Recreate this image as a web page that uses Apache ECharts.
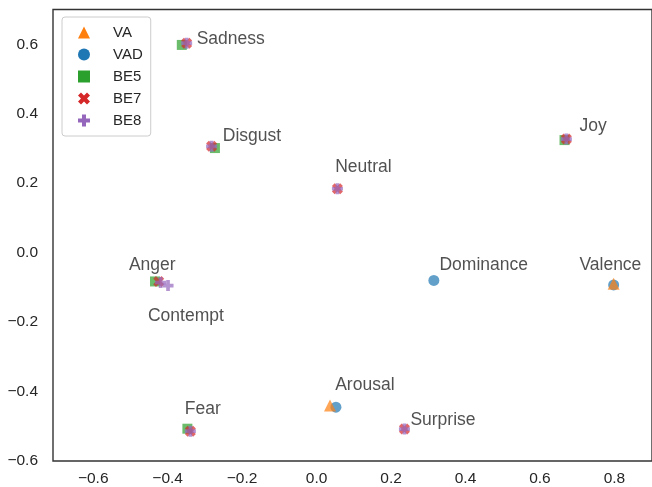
<!DOCTYPE html>
<html>
<head>
<meta charset="utf-8">
<script src="https://cdn.jsdelivr.net/npm/echarts@6/dist/echarts.min.js"></script>
<style>
  html, body { margin: 0; padding: 0; background: #fff; }
  #chart { width: 652px; height: 487px; }
</style>
</head>
<body>
<div id="chart"></div>
<script>
// points per embedding set, [x, y, name]
const vaPoints = [
  [0.798, -0.090, "Valence"],
  [0.036, -0.440, "Arousal"]
];
const vadPoints = [
  [0.798, -0.093, "Valence"],
  [0.052, -0.445, "Arousal"],
  [0.315, -0.080, "Dominance"]
];
const be5Points = [
  [-0.434, -0.083, "Anger"],
  [-0.273, 0.301, "Disgust"],
  [-0.347, -0.507, "Fear"],
  [0.666, 0.324, "Joy"],
  [-0.362, 0.598, "Sadness"]
];
const be7Points = [
  [-0.424, -0.083, "Anger"],
  [-0.282, 0.306, "Disgust"],
  [-0.339, -0.514, "Fear"],
  [0.671, 0.327, "Joy"],
  [-0.349, 0.603, "Sadness"],
  [0.236, -0.508, "Surprise"],
  [0.056, 0.184, "Neutral"]
];
const be8Points = [
  [-0.419, -0.086, "Anger"],
  [-0.282, 0.306, "Disgust"],
  [-0.339, -0.514, "Fear"],
  [0.671, 0.327, "Joy"],
  [-0.349, 0.603, "Sadness"],
  [0.236, -0.508, "Surprise"],
  [0.056, 0.184, "Neutral"],
  [-0.399, -0.095, "Contempt"]
];
// text annotations (left edge, middle) in data units
const labelNames = ["Sadness", "Disgust", "Neutral", "Joy", "Valence", "Dominance",
  "Anger", "Contempt", "Arousal", "Surprise", "Fear"];
const labelX = [-0.322, -0.252, 0.050, 0.706, 0.706, 0.330, -0.504, -0.453, 0.050, 0.252, -0.354];
const labelY = [0.616, 0.336, 0.247, 0.365, -0.035, -0.035, -0.035, -0.184, -0.383, -0.483, -0.452];

const xTicks = [-0.6, -0.4, -0.2, 0.0, 0.2, 0.4, 0.6, 0.8];
const yTicks = [-0.6, -0.4, -0.2, 0.0, 0.2, 0.4, 0.6];

const TXT = "#262626";
const FONT = "Liberation Sans";
const plusPath = "path://M-1,-3L1,-3L1,-1L3,-1L3,1L1,1L1,3L-1,3L-1,1L-3,1L-3,-1L-1,-1Z";
const xPath = "path://M2,-4L4,-2L2,0L4,2L2,4L0,2L-2,4L-4,2L-2,0L-4,-2L-2,-4L0,-2Z";

const fmt = v => (Math.round(v * 10) / 10).toFixed(1).replace("-", "\u2212");

function sc(name, data, symbol, size, color, z) {
  return {
    name: name,
    type: "scatter",
    data: data,
    symbol: symbol,
    symbolSize: size,
    z: z,
    itemStyle: { color: color, opacity: 0.7 }
  };
}

const chart = echarts.init(document.getElementById("chart"));
chart.setOption({
  backgroundColor: "#fff",
  animation: false,
  grid: {
    left: 53, right: -2, top: 9.5, bottom: 25.5,
    show: true, borderColor: "#333", borderWidth: 1.4
  },
  xAxis: {
    type: "value", min: -0.708, max: 0.901,
    axisLine: { show: false }, axisTick: { show: false },
    splitLine: { show: false },
    axisLabel: {
      customValues: xTicks, formatter: fmt, margin: 10,
      color: TXT, fontSize: 15.5, fontFamily: FONT
    }
  },
  yAxis: {
    type: "value", min: -0.6, max: 0.7,
    axisLine: { show: false }, axisTick: { show: false },
    splitLine: { show: false },
    axisLabel: {
      customValues: yTicks, formatter: fmt, margin: 15,
      color: TXT, fontSize: 15.5, fontFamily: FONT
    }
  },
  legend: {
    data: [
      { name: "VA", icon: "triangle", itemStyle: { opacity: 1 } },
      { name: "VAD", icon: "circle", itemStyle: { opacity: 1 } },
      { name: "BE5", icon: "path://M0,0L10,0L10,10L0,10Z", itemStyle: { opacity: 1 } },
      { name: "BE7", icon: xPath, itemStyle: { opacity: 1 } },
      { name: "BE8", icon: plusPath, itemStyle: { opacity: 1 } }
    ],
    orient: "vertical",
    left: 62, top: 17,
    padding: [8, 8, 8, 16],
    itemWidth: 12, itemHeight: 12, itemGap: 7,
    borderColor: "#ccc", borderWidth: 1, borderRadius: 3,
    backgroundColor: "rgba(255,255,255,0.85)",
    textStyle: { color: TXT, fontSize: 15, fontFamily: FONT, padding: [0, 0, 0, 18] }
  },
  series: [
    sc("VA", vaPoints, "triangle", 12, "#ff7f0e", 4),
    sc("VAD", vadPoints, "circle", 11, "#1f77b4", 3),
    sc("BE5", be5Points, "rect", 10, "#2ca02c", 2),
    sc("BE7", be7Points, xPath, 11, "#d62728", 2),
    sc("BE8", be8Points, plusPath, 11, "#9467bd", 2),
    {
      name: "labels",
      type: "scatter",
      symbolSize: 0,
      silent: true,
      z: 5,
      data: labelNames.map((n, i) => [labelX[i], labelY[i], n]),
      label: {
        show: true, position: "right", distance: 0,
        formatter: p => p.value[2],
        color: TXT, fontSize: 17.5, fontFamily: FONT
      }
    }
  ]
});
</script>
</body>
</html>
